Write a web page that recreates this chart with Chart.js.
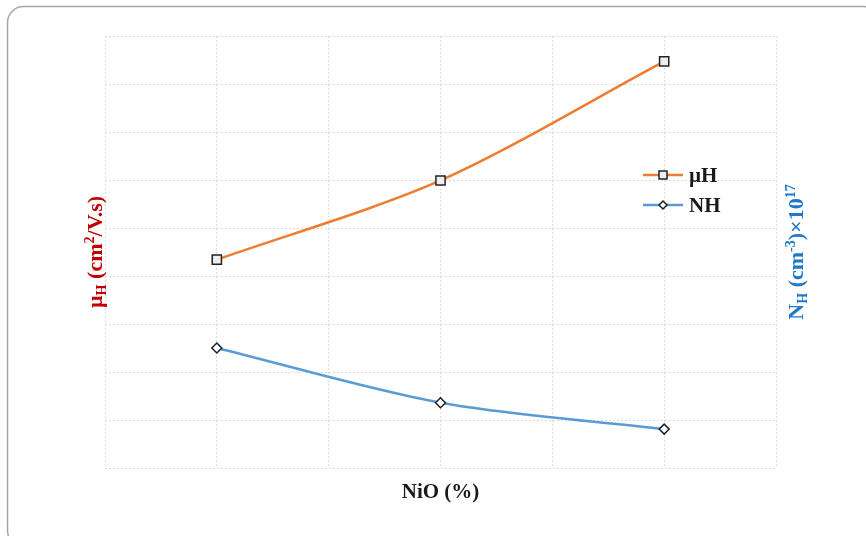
<!DOCTYPE html>
<html>
<head>
<meta charset="utf-8">
<script src="https://cdn.jsdelivr.net/npm/chart.js@4.4.1/dist/chart.umd.min.js"></script>
<style>
  html,body{margin:0;padding:0;background:#fff;}
  #wrap{position:relative;width:866px;height:536px;}
</style>
</head>
<body>
<div id="wrap"><canvas id="c" width="866" height="536"></canvas></div>
<script>
// Data (axis has no tick labels; values in grid units 0..9)
const nioPositions = [1, 3, 5];          // category positions on the 0..6 NiO axis
const muH = [4.34, 5.99, 8.47];          // Hall mobility
const nH  = [2.50, 1.36, 0.81];          // carrier concentration
const seriesNames = ['\u00b5H', 'NH'];

const FONT = '"Liberation Serif", "Times New Roman", serif';

function drawRich(ctx, parts, size) {
  let total = 0;
  const items = parts.map(p => {
    const s = p.m ? size * 0.64 : size;
    ctx.font = 'bold ' + s + 'px ' + FONT;
    const w = ctx.measureText(p.t).width;
    total += w;
    return {t: p.t, m: p.m, s, w};
  });
  let x = -total / 2;
  items.forEach(it => {
    ctx.font = 'bold ' + it.s + 'px ' + FONT;
    let dy = 0;
    if (it.m === 'sub') dy = size * 0.2;
    if (it.m === 'sup') dy = -size * 0.38;
    ctx.fillText(it.t, x, dy);
    x += it.w;
  });
}

const decor = {
  id: 'decor',
  beforeDraw(chart) {
    const ctx = chart.ctx;
    ctx.save();
    ctx.strokeStyle = '#a6a6a6';
    ctx.lineWidth = 1.5;
    ctx.beginPath();
    if (ctx.roundRect) ctx.roundRect(7.5, 6.5, 872, 540, 16);
    else ctx.rect(7.5, 6.5, 872, 540);
    ctx.stroke();
    ctx.restore();
  },
  afterDraw(chart) {
    const ctx = chart.ctx;
    const a = chart.chartArea;
    ctx.save();
    ctx.textBaseline = 'alphabetic';
    ctx.textAlign = 'left';
    // left title
    ctx.save();
    ctx.fillStyle = '#c00000';
    ctx.translate(a.left - 3, (a.top + a.bottom) / 2);
    ctx.rotate(-Math.PI / 2);
    drawRich(ctx, [{t:'\u00b5'},{t:'H',m:'sub'},{t:' (cm'},{t:'2',m:'sup'},{t:'/V.s)'}], 22);
    ctx.restore();
    // right title
    ctx.save();
    ctx.fillStyle = '#1f78c8';
    ctx.translate(a.right + 27, (a.top + a.bottom) / 2);
    ctx.rotate(-Math.PI / 2);
    drawRich(ctx, [{t:'N'},{t:'H',m:'sub'},{t:' (cm'},{t:'-3',m:'sup'},{t:')\u00d710'},{t:'17',m:'sup'}], 22);
    ctx.restore();
    // x title
    ctx.save();
    ctx.fillStyle = '#1a1a1a';
    ctx.translate((a.left + a.right) / 2, a.bottom + 30);
    drawRich(ctx, [{t:'NiO (%)'}], 21);
    ctx.restore();
    // legend
    const lx = 643, ly = [175, 205];
    chart.data.datasets.forEach((ds, i) => {
      const y = ly[i];
      ctx.strokeStyle = ds.borderColor;
      ctx.lineWidth = 2.5;
      ctx.beginPath(); ctx.moveTo(lx, y); ctx.lineTo(lx + 40, y); ctx.stroke();
      ctx.fillStyle = ds.pointBackgroundColor;
      ctx.strokeStyle = ds.pointBorderColor;
      ctx.lineWidth = 1.5;
      if (i === 0) {
        ctx.fillRect(lx + 16, y - 4, 8, 8);
        ctx.strokeRect(lx + 16, y - 4, 8, 8);
      } else {
        ctx.beginPath();
        ctx.moveTo(lx + 20, y - 4); ctx.lineTo(lx + 24, y); ctx.lineTo(lx + 20, y + 4); ctx.lineTo(lx + 16, y);
        ctx.closePath(); ctx.fill(); ctx.stroke();
      }
      ctx.fillStyle = '#1a1a1a';
      ctx.font = 'bold 21px ' + FONT;
      ctx.fillText(ds.label, lx + 46, y + 7);
    });
    ctx.restore();
  }
};

const gridOpts = {
  color: '#dcdcdc',
  lineWidth: 1,
  drawTicks: false
};
const dotted = { display: false, dash: [2, 2] };

new Chart(document.getElementById('c'), {
  type: 'line',
  data: {
    datasets: [
      {
        label: seriesNames[0],
        data: nioPositions.map((x, i) => ({x, y: muH[i]})),
        borderColor: '#ed7d31',
        borderWidth: 2.5,
        pointStyle: 'rect',
        pointRadius: 6.5,
        pointBackgroundColor: '#eeeeee',
        pointBorderColor: '#222222',
        pointBorderWidth: 1.5,
        tension: 0.3,
        yAxisID: 'y'
      },
      {
        label: seriesNames[1],
        data: nioPositions.map((x, i) => ({x, y: nH[i]})),
        borderColor: '#5b9bd5',
        borderWidth: 2.5,
        pointStyle: 'rectRot',
        pointRadius: 5,
        pointBackgroundColor: '#ffffff',
        pointBorderColor: '#222222',
        pointBorderWidth: 1.5,
        tension: 0.3,
        yAxisID: 'y2'
      }
    ]
  },
  options: {
    responsive: false,
    animation: false,
    events: [],
    layout: { padding: { left: 105, right: 90, top: 36, bottom: 68 } },
    plugins: { legend: { display: false }, tooltip: { enabled: false } },
    scales: {
      x: {
        type: 'linear', min: 0, max: 6,
        ticks: { display: false, stepSize: 1 },
        grid: gridOpts,
        border: dotted
      },
      y: {
        position: 'left', min: 0, max: 9,
        ticks: { display: false, stepSize: 1 },
        grid: gridOpts,
        border: dotted
      },
      y2: {
        position: 'right', min: 0, max: 9,
        ticks: { display: false, stepSize: 1 },
        grid: { display: false, drawTicks: false },
        border: { display: false }
      }
    }
  },
  plugins: [decor]
});
</script>
</body>
</html>
